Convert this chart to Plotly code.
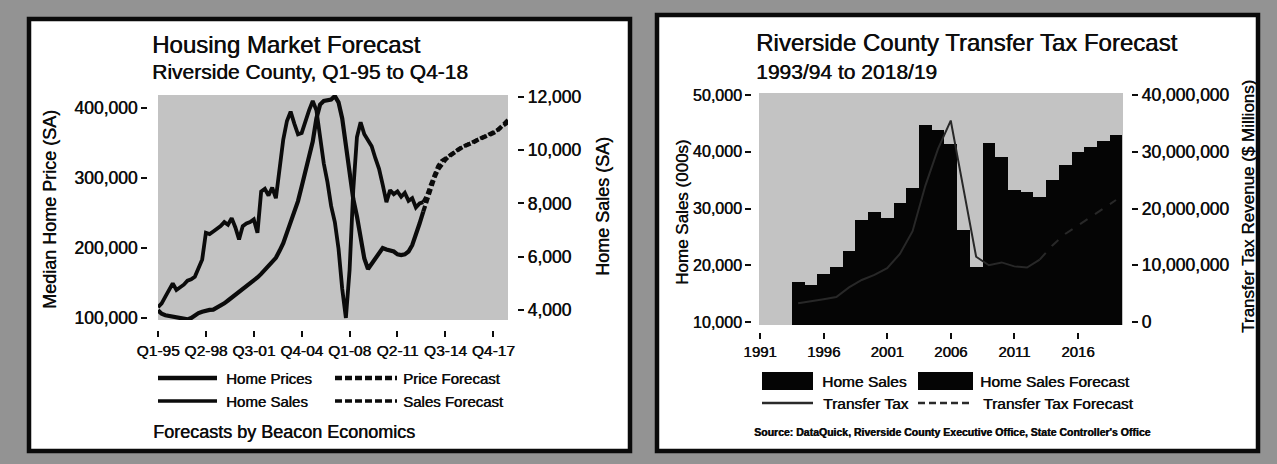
import plotly.graph_objects as go

W, H = 1277, 464
FONT = "Liberation Sans, Arial, Helvetica, sans-serif"
INK = "#0d0d0d"
SHADOW = "0.5px 0px 0px #0d0d0d"

# ---------------- Left chart data (quarterly) ----------------
years = list(range(1995, 2019))
quarters = [f"Q{q}-{y % 100:02d}" for y in years for q in range(1, 5)]
left_tick_labels = ["Q1-95", "Q2-98", "Q3-01", "Q4-04", "Q1-08", "Q2-11", "Q3-14", "Q4-17"]

# Median home price (SA), Q1-95 .. Q1-13
home_prices = [
    111000, 106000, 104000, 103000, 102000, 101000, 100000, 99000, 98000, 100000,
    104000, 107000, 109000, 111000, 111500, 112000, 115000, 117000, 121000, 125000,
    129000, 133000, 137000, 141000, 145000, 149000, 153000, 158000, 163000, 169000,
    174000, 180000, 186000, 196000, 207000, 222000, 236000, 252000, 267000, 288000,
    310000, 332000, 352000, 385000, 405000, 410000, 411000, 412000, 417000, 408000,
    385000, 345000, 305000, 270000, 245000, 215000, 185000, 170000, 178000, 186000,
    192000, 200000, 198000, 196000, 195000, 191000, 190000, 191000, 195000, 204000,
    218000, 235000, 252000,
]
# Price forecast, Q1-13 .. Q4-18
price_forecast = [
    252000, 268000, 285000, 300000, 312000, 320000, 326000, 331000, 335000, 339000,
    342000, 345000, 347000, 350000, 352000, 355000, 357000, 359000, 361000, 364000,
    367000, 372000, 377000, 383000,
]
# Home sales (SA), Q1-95 .. Q1-13
home_sales = [
    4100, 4250, 4500, 4750, 5000, 4750, 4850, 4950, 5100, 5150,
    5250, 5600, 5900, 6900, 6850, 6950, 7050, 7150, 7300, 7200,
    7450, 7100, 6650, 7150, 7250, 7300, 7400, 6900, 8450, 8550,
    8300, 8600, 8200, 9300, 10400, 11100, 11450, 11000, 10600, 10650,
    11100, 11500, 11850, 11500, 10500, 9500, 8800, 7900, 7300, 6300,
    4800, 3700, 5500, 8500, 10500, 11050, 10600, 10400, 10150, 9700,
    9300, 8700, 8050, 8500, 8350, 8450, 8250, 8400, 8100, 8200,
    7850, 8000, 8050,
]
# Sales forecast, Q1-13 .. Q4-18
sales_forecast = [
    8050, 8300, 8700, 9100, 9400, 9600, 9700, 9800, 9900, 10000,
    10080, 10150, 10220, 10300, 10350, 10420, 10480, 10540, 10600, 10680,
    10750, 10850, 10950, 11050,
]
n_act = len(home_prices)

# ---------------- Right chart data (fiscal years) ----------------
fiscal_years = ["1993/94", "1994/95", "1995/96", "1996/97", "1997/98", "1998/99", "1999/00",
                "2000/01", "2001/02", "2002/03", "2003/04", "2004/05", "2005/06", "2006/07",
                "2007/08", "2008/09", "2009/10", "2010/11", "2011/12", "2012/13", "2013/14",
                "2014/15", "2015/16", "2016/17", "2017/18", "2018/19"]
annual_home_sales = [17050, 16500, 18400, 19700, 22500, 27900, 29300, 28350, 31000, 33650,
                     44700, 43850, 41300, 26200, 19700, 41600, 39050, 33270, 32920, 32100]
annual_sales_forecast = [35050, 37680, 40000, 40840, 41850, 42970]
transfer_tax = [3300000, 3600000, 4000000, 4400000, 6100000, 7400000, 8300000, 9500000,
                12000000, 16000000, 24000000, 30500000, 35500000, 23500000, 11500000,
                10000000, 10500000, 9800000, 9600000, 11000000]
transfer_tax_forecast = [11000000, 13500000, 15500000, 17000000, 18500000, 20000000, 21500000]
right_tick_years = [1991, 1996, 2001, 2006, 2011, 2016]

fy_x = [int(f[:4]) + 1 for f in fiscal_years]
n_hist = len(annual_home_sales)


def fx(px):
    return px / W


def fy(py):
    return 1 - py / H


def tfont(size):
    return dict(family=FONT, size=size, color=INK, shadow=SHADOW)


fig = go.Figure()

# Left chart traces
fig.add_trace(go.Scatter(x=quarters[:n_act], y=home_prices, mode="lines", name="Home Prices",
                         line=dict(color="#0b0b0b", width=4.2), xaxis="x", yaxis="y"))
fig.add_trace(go.Scatter(x=quarters[n_act - 1:], y=price_forecast, mode="lines", name="Price Forecast",
                         line=dict(color="#0b0b0b", width=4.2, dash="6px,3px"), xaxis="x", yaxis="y"))
fig.add_trace(go.Scatter(x=quarters[:n_act], y=home_sales, mode="lines", name="Home Sales",
                         line=dict(color="#0b0b0b", width=3.8), xaxis="x", yaxis="y2"))
fig.add_trace(go.Scatter(x=quarters[n_act - 1:], y=sales_forecast, mode="lines", name="Sales Forecast",
                         line=dict(color="#0b0b0b", width=3.8, dash="6px,3px"), xaxis="x", yaxis="y2"))

# Right chart traces
fig.add_trace(go.Bar(x=fy_x[:n_hist], y=annual_home_sales, name="Home Sales", width=1,
                     marker=dict(color="#050505", line=dict(width=0)), xaxis="x2", yaxis="y3"))
fig.add_trace(go.Bar(x=fy_x[n_hist:], y=annual_sales_forecast, name="Home Sales Forecast", width=1,
                     marker=dict(color="#050505", line=dict(width=0)), xaxis="x2", yaxis="y3"))
fig.add_trace(go.Scatter(x=fy_x[:n_hist], y=transfer_tax, mode="lines", name="Transfer Tax",
                         line=dict(color="#282828", width=2), xaxis="x2", yaxis="y4"))
fig.add_trace(go.Scatter(x=fy_x[n_hist - 1:], y=transfer_tax_forecast, mode="lines",
                         name="Transfer Tax Forecast",
                         line=dict(color="#282828", width=2, dash="dash"), xaxis="x2", yaxis="y4"))


def axis_style(size):
    return dict(ticks="outside", ticklen=6, tickwidth=2.2, tickcolor=INK,
                showgrid=False, zeroline=False, showline=False, automargin=False,
                tickfont=tfont(size))


fig.update_layout(
    width=W, height=H, autosize=False,
    margin=dict(l=0, r=0, t=0, b=0, pad=0, autoexpand=False),
    paper_bgcolor="#939393", plot_bgcolor="rgba(0,0,0,0)",
    showlegend=False, barmode="overlay", bargap=0,
    font=dict(family=FONT, color=INK),
    xaxis=dict(domain=[fx(158), fx(508)], anchor="free", position=fy(330),
               type="category", categoryorder="array", categoryarray=quarters,
               range=[0, len(quarters) - 1], tickmode="array", tickvals=left_tick_labels,
               **axis_style(15.5)),
    yaxis=dict(domain=[fy(320), fy(95)], anchor="free", position=fx(147), side="left",
               range=[97143, 418571], tickvals=[100000, 200000, 300000, 400000],
               ticktext=["100,000", "200,000", "300,000", "400,000"], **axis_style(17.5)),
    yaxis2=dict(overlaying="y", anchor="free", position=fx(517), side="right",
                range=[3623, 12075], tickvals=[4000, 6000, 8000, 10000, 12000],
                ticktext=["4,000", "6,000", "8,000", "10,000", "12,000"], **axis_style(17.5)),
    xaxis2=dict(domain=[fx(759), fx(1123)], anchor="free", position=fy(332),
                range=[1990.92, 2019.55], tickvals=right_tick_years,
                ticktext=[str(y) for y in right_tick_years], **axis_style(15)),
    yaxis3=dict(domain=[fy(325), fy(93)], anchor="free", position=fx(751), side="left",
                range=[9471, 50352], tickvals=[10000, 20000, 30000, 40000, 50000],
                ticktext=["10,000", "20,000", "30,000", "40,000", "50,000"], **axis_style(16)),
    yaxis4=dict(overlaying="y3", anchor="free", position=fx(1131), side="right",
                range=[-529000, 40352000],
                tickvals=[0, 10000000, 20000000, 30000000, 40000000],
                ticktext=["0", "10,000,000", "20,000,000", "30,000,000", "40,000,000"],
                **axis_style(17.5)),
)

shapes = [
    # white panels with black frames
    dict(type="rect", xref="paper", yref="paper", x0=fx(29), x1=fx(630), y0=fy(451), y1=fy(19),
         fillcolor="white", line=dict(color="#0a0a0a", width=4.5), layer="below"),
    dict(type="rect", xref="paper", yref="paper", x0=fx(657), x1=fx(1258), y0=fy(451), y1=fy(15),
         fillcolor="white", line=dict(color="#0a0a0a", width=4.5), layer="below"),
    # plot area backgrounds
    dict(type="rect", xref="x domain", yref="y domain", x0=0, x1=1, y0=0, y1=1,
         fillcolor="#c3c3c3", line=dict(width=0), layer="below"),
    dict(type="rect", xref="x2 domain", yref="y3 domain", x0=0, x1=1, y0=0, y1=1,
         fillcolor="#c3c3c3", line=dict(width=0), layer="below"),
]

# Left legend samples
shapes += [
    dict(type="line", xref="paper", yref="paper", x0=fx(158), x1=fx(217), y0=fy(378), y1=fy(378),
         line=dict(color="#0b0b0b", width=4.5)),
    dict(type="line", xref="paper", yref="paper", x0=fx(335), x1=fx(397), y0=fy(378), y1=fy(378),
         line=dict(color="#0b0b0b", width=4.5, dash="7px,3px")),
    dict(type="line", xref="paper", yref="paper", x0=fx(158), x1=fx(217), y0=fy(401), y1=fy(401),
         line=dict(color="#0b0b0b", width=3.5)),
    dict(type="line", xref="paper", yref="paper", x0=fx(335), x1=fx(397), y0=fy(401), y1=fy(401),
         line=dict(color="#0b0b0b", width=3.5, dash="7px,3px")),
]
# Right legend samples
shapes += [
    dict(type="rect", xref="paper", yref="paper", x0=fx(762), x1=fx(813), y0=fy(390), y1=fy(372),
         fillcolor="#050505", line=dict(width=0)),
    dict(type="rect", xref="paper", yref="paper", x0=fx(918), x1=fx(973), y0=fy(390), y1=fy(372),
         fillcolor="#050505", line=dict(width=0)),
    dict(type="line", xref="paper", yref="paper", x0=fx(762), x1=fx(813), y0=fy(403), y1=fy(403),
         line=dict(color="#2a2a2a", width=2.5)),
    dict(type="line", xref="paper", yref="paper", x0=fx(918), x1=fx(973), y0=fy(403), y1=fy(403),
         line=dict(color="#2a2a2a", width=2.5, dash="7px,4px")),
]
fig.update_layout(shapes=shapes)


def txt(x, y, s, size, anchor="left", angle=0, bold=False):
    return dict(xref="paper", yref="paper", x=fx(x), y=fy(y), text=(f"<b>{s}</b>" if bold else s),
                showarrow=False, xanchor=anchor, yanchor="middle", textangle=angle,
                font=tfont(size))


annotations = [
    txt(150, 44, "Housing Market Forecast", 24),
    txt(150, 72, "Riverside County, Q1-95 to Q4-18", 21),
    txt(50, 210, "Median Home Price (SA)", 18, anchor="center", angle=-90),
    txt(603, 207, "Home Sales (SA)", 18, anchor="center", angle=-90),
    txt(224, 378, "Home Prices", 15),
    txt(401, 378, "Price Forecast", 15),
    txt(224, 401, "Home Sales", 15),
    txt(401, 401, "Sales Forecast", 15),
    txt(151, 432, "Forecasts by Beacon Economics", 18),
    txt(754, 42, "Riverside County Transfer Tax Forecast", 24),
    txt(754, 72, "1993/94 to 2018/19", 21),
    txt(682, 212, "Home Sales (000s)", 17, anchor="center", angle=-90),
    txt(1249, 207, "Transfer Tax Revenue ($ Millions)", 17, anchor="center", angle=-90),
    txt(820, 381, "Home Sales", 15.5),
    txt(978, 381, "Home Sales Forecast", 15.5),
    txt(821, 403, "Transfer Tax", 15.5),
    txt(981, 403, "Transfer Tax Forecast", 15.5),
    txt(752, 432, "Source: DataQuick, Riverside County Executive Office, State Controller's Office",
        10.5, bold=True),
]
fig.update_layout(annotations=annotations)

fig.write_html(
    "out.html",
    config={"responsive": False, "displayModeBar": False},
    post_script="document.body.style.margin='0px';document.body.style.padding='0px';"
                "document.body.style.overflow='hidden';",
)
